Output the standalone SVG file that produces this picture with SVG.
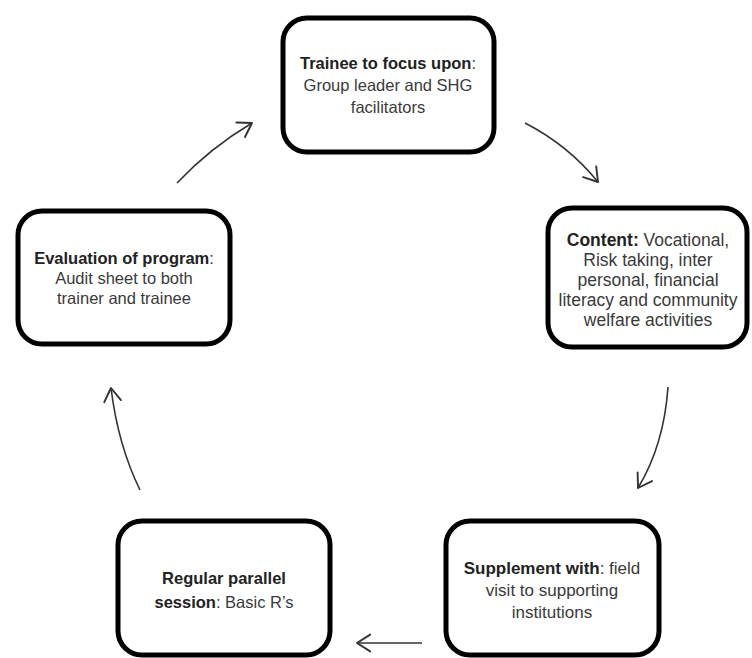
<svg xmlns="http://www.w3.org/2000/svg" width="752" height="658" viewBox="0 0 752 658">
<defs>
<marker id="ah" markerUnits="userSpaceOnUse" markerWidth="24" markerHeight="24" refX="0" refY="0" viewBox="-14 -10 16 20" orient="auto">
<path d="M-11,-7 L0,0 L-11,7" fill="none" stroke="#333" stroke-width="1.6" stroke-linecap="round" stroke-linejoin="round"/>
</marker>
</defs>
<style>
.box{fill:#fff;stroke:#000;stroke-width:5}
.t{font-family:"Liberation Sans",Arial,sans-serif;font-size:16.5px;fill:#3a3a3a;text-anchor:middle}
.l{font-size:17.5px}
.m{font-size:17px}
.b{font-weight:bold;fill:#222}
.c{fill:none;stroke:#333;stroke-width:1.6;marker-end:url(#ah)}
</style>
<rect width="752" height="658" fill="#fff"/>
<g id="connectors">
<path class="c" d="M525,123 Q568,145 598,182"/>
<path class="c" d="M668,387 Q664,445 638,488"/>
<path class="c" d="M422,643 L357,643"/>
<path class="c" d="M140,490 Q118,445 111,388"/>
<path class="c" d="M177,183 Q210,148 252,123"/>
</g>
<g id="node-trainee">
<rect class="box" x="283" y="18" width="211" height="134" rx="24"/>
<text class="t" x="388" y="69"><tspan class="b">Trainee to focus upon</tspan>:</text>
<text class="t" x="388" y="91">Group leader and SHG</text>
<text class="t" x="388" y="113">facilitators</text>
</g>
<g id="node-content">
<rect class="box" x="548" y="208" width="199" height="139" rx="24"/>
<text class="t l" x="648" y="246"><tspan class="b">Content:</tspan> Vocational,</text>
<text class="t l" x="648" y="266">Risk taking, inter</text>
<text class="t l" x="648" y="286">personal, financial</text>
<text class="t l" x="648" y="306">literacy and community</text>
<text class="t l" x="648" y="326">welfare activities</text>
</g>
<g id="node-supplement">
<rect class="box" x="446" y="521" width="213" height="134" rx="24"/>
<text class="t m" x="552" y="574"><tspan class="b">Supplement with</tspan>: field</text>
<text class="t m" x="552" y="596">visit to supporting</text>
<text class="t m" x="552" y="618">institutions</text>
</g>
<g id="node-regular">
<rect class="box" x="118" y="521" width="212" height="134" rx="24"/>
<text class="t" x="224" y="584"><tspan class="b">Regular parallel</tspan></text>
<text class="t" x="224" y="608"><tspan class="b">session</tspan>: Basic R’s</text>
</g>
<g id="node-evaluation">
<rect class="box" x="18" y="211" width="212" height="133" rx="24"/>
<text class="t" x="124" y="264"><tspan class="b">Evaluation of program</tspan>:</text>
<text class="t" x="124" y="284">Audit sheet to both</text>
<text class="t" x="124" y="304">trainer and trainee</text>
</g>
</svg>
